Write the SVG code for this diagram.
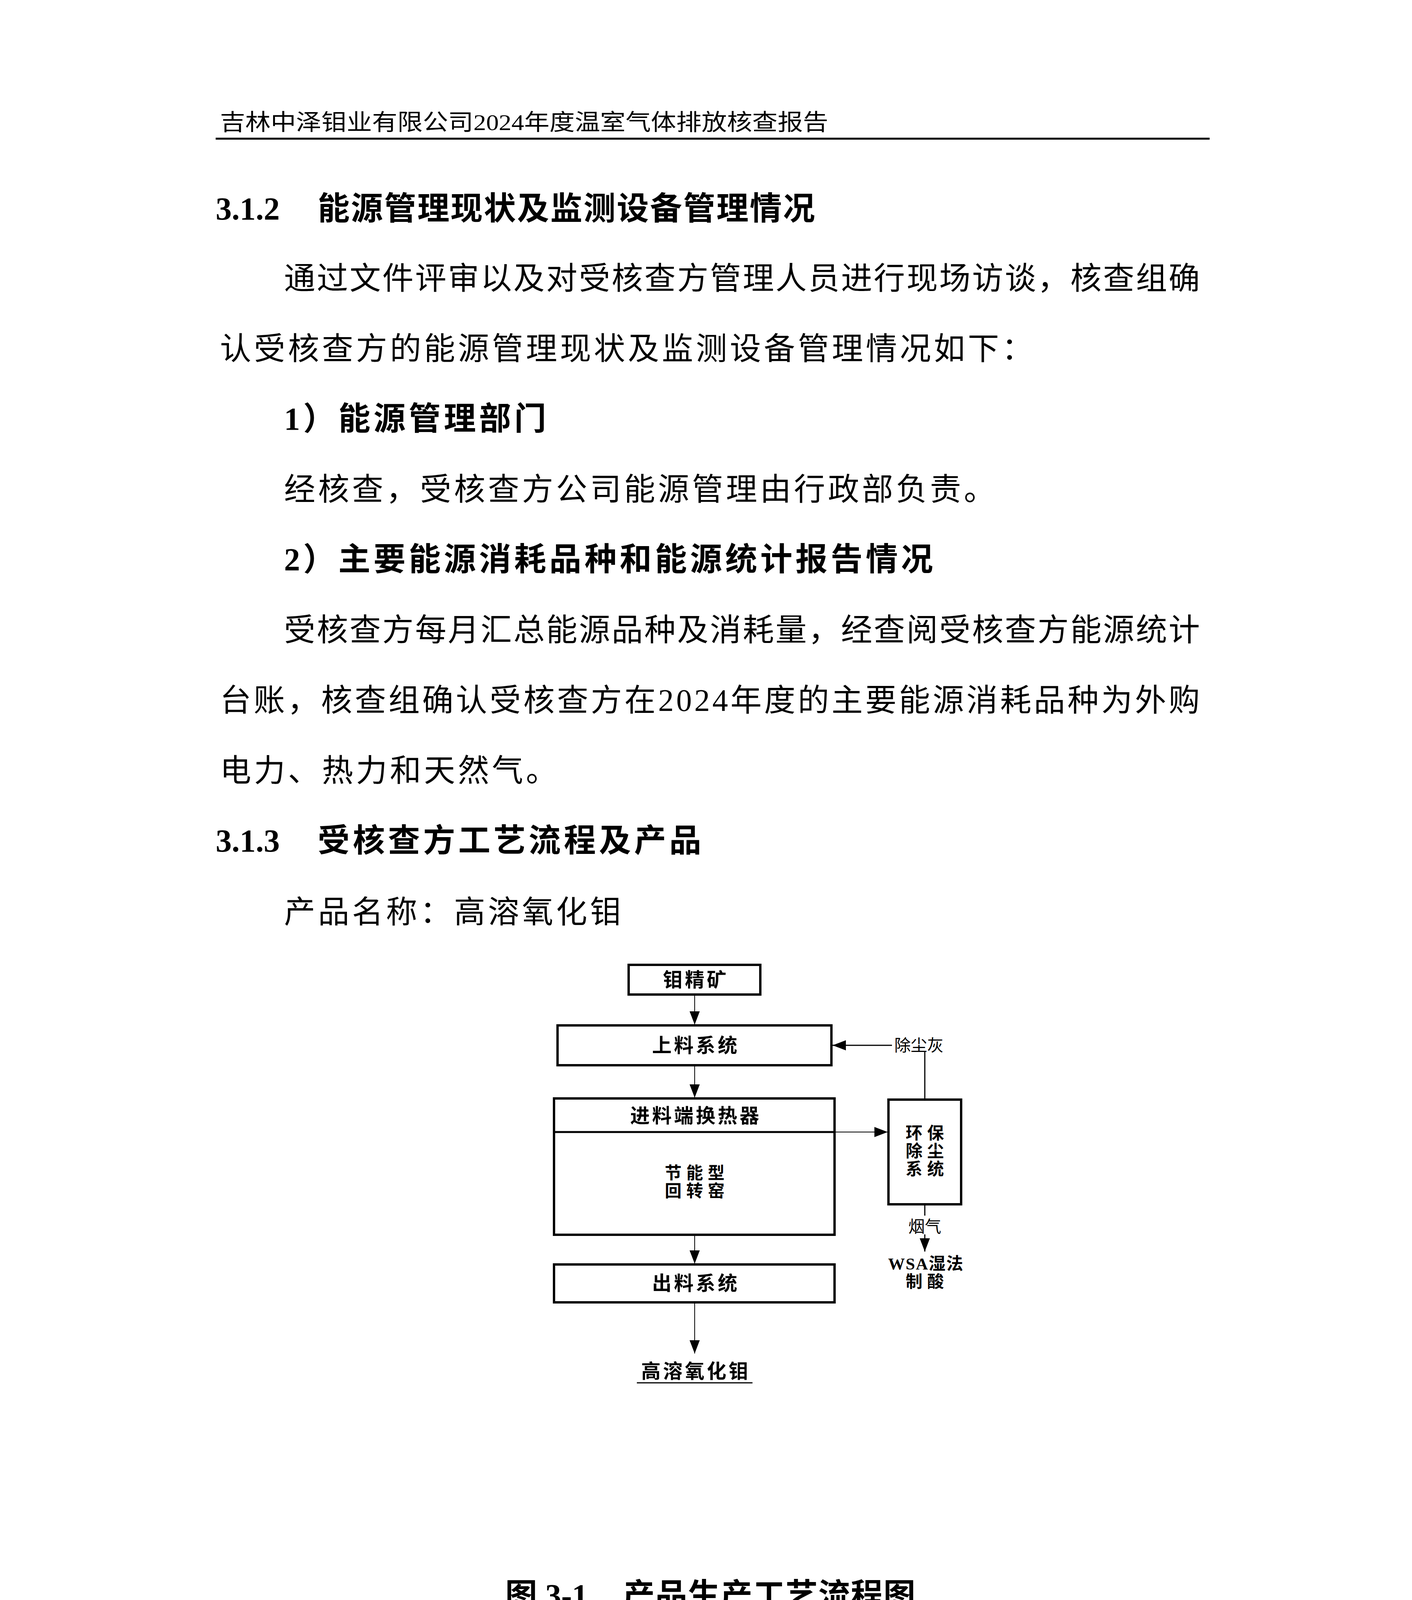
<svg xmlns="http://www.w3.org/2000/svg" width="3614" height="5110" viewBox="0 0 3614 5110">
<style>
text{font-family:"Liberation Serif","Noto Sans CJK SC",serif;fill:#000}
.b{font-size:80px;letter-spacing:7px}
.h{font-size:82px;font-weight:bold;letter-spacing:8px}
.n{letter-spacing:0}
.d{font-size:50px;font-weight:bold;text-anchor:middle;letter-spacing:6px}
.m{font-size:43px;letter-spacing:12px}
.s{font-size:42px;text-anchor:middle}
.box{fill:#fff;stroke:#000;stroke-width:6}
.ln{stroke:#000;stroke-width:2;fill:none}
</style>
<defs>
<marker id="A" viewBox="0 0 10 10" refX="10" refY="5" markerWidth="34" markerHeight="26" orient="auto" markerUnits="userSpaceOnUse" preserveAspectRatio="none"><path d="M0,0L10,5L0,10z"/></marker></defs>
<rect width="3614" height="5110" fill="#fff"/>
<g id="page">
<text x="563" y="333" font-size="58" textLength="1557" lengthAdjust="spacingAndGlyphs">吉林中泽钼业有限公司2024年度温室气体排放核查报告</text>
<line x1="552" y1="355" x2="3096" y2="355" stroke="#000" stroke-width="5"/>
<text class="h n" x="552" y="562">3.1.2</text>
<text class="h" x="813" y="562" textLength="1281" lengthAdjust="spacing">能源管理现状及监测设备管理情况</text>
<text class="b" x="727" y="740" textLength="2351" lengthAdjust="spacing">通过文件评审以及对受核查方管理人员进行现场访谈，核查组确</text>
<text class="b" x="563" y="920">认受核查方的能源管理现状及监测设备管理情况如下：</text>
<text class="h" x="727" y="1100">1）能源管理部门</text>
<text class="b" x="727" y="1280">经核查，受核查方公司能源管理由行政部负责。</text>
<text class="h" x="727" y="1460">2）主要能源消耗品种和能源统计报告情况</text>
<text class="b" x="727" y="1640" textLength="2351" lengthAdjust="spacing">受核查方每月汇总能源品种及消耗量，经查阅受核查方能源统计</text>
<text class="b" x="563" y="1820" textLength="2515" lengthAdjust="spacing">台账，核查组确认受核查方在2024年度的主要能源消耗品种为外购</text>
<text class="b" x="563" y="2000">电力、热力和天然气。</text>
<text class="h n" x="552" y="2180">3.1.3</text>
<text class="h" x="813" y="2180">受核查方工艺流程及产品</text>
<text class="b" x="727" y="2362">产品名称：高溶氧化钼</text>
<text class="h n" x="1293" y="4112">图 3-1</text>
<text class="h" x="1594" y="4112" textLength="757" lengthAdjust="spacing">产品生产工艺流程图</text>
<text class="h n" x="552" y="4292">3.2</text>
<text class="h" x="760" y="4292">核算边界的核查</text>
<text class="b" x="727" y="4472" textLength="2351" lengthAdjust="spacing">通过查阅受核查方公司简介、组织机构图以及现场访谈，核查组</text>
<text class="b" x="563" y="4652" textLength="2515" lengthAdjust="spacing">确认：在吉林省行政辖区范围内，受核查方只有一个生产厂区，位于</text>
<text x="1870" y="4800" font-size="50" text-anchor="middle">10</text>
</g>
<g id="connectors">
<line class="ln" x1="1778" y1="2546" x2="1778" y2="2623" marker-end="url(#A)"/>
<line class="ln" x1="1778" y1="2727" x2="1778" y2="2810" marker-end="url(#A)"/>
<line class="ln" x1="1778" y1="3161" x2="1778" y2="3235" marker-end="url(#A)"/>
<line class="ln" x1="1778" y1="3334" x2="1778" y2="3465" marker-end="url(#A)"/>
<line class="ln" x1="2136" y1="2898" x2="2272" y2="2898" marker-end="url(#A)"/>
<line class="ln" x1="2367" y1="2815" x2="2367" y2="2692" style="stroke-width:3"/>
<line class="ln" x1="2283" y1="2676" x2="2131" y2="2676" style="stroke-width:3" marker-end="url(#A)"/>
<line class="ln" x1="2367" y1="3083" x2="2367" y2="3204" style="stroke-width:3" marker-end="url(#A)"/>
<text class="s" x="2352" y="2691">除尘灰</text>
<rect x="2340" y="3112" width="54" height="48" fill="#fff"/>
<text class="s" x="2367" y="3155">烟气</text>
</g>
<g id="n1"><rect class="box" x="1609" y="2470" width="337" height="76"/><text class="d" x="1781" y="2526">钼精矿</text></g>
<g id="n2"><rect class="box" x="1427" y="2625" width="701" height="102"/><text class="d" x="1781" y="2694">上料系统</text></g>
<g id="n3"><rect class="box" x="1418" y="2812" width="718" height="349"/><line x1="1418" y1="2898" x2="2136" y2="2898" stroke="#000" stroke-width="5"/><text class="d" x="1781" y="2874">进料端换热器</text><text class="d m" x="1784" y="3018">节能型</text><text class="d m" x="1784" y="3064">回转窑</text></g>
<g id="n4"><rect class="box" x="2274" y="2815" width="186" height="268"/><text class="d m" x="2373" y="2916">环保</text><text class="d m" x="2373" y="2962">除尘</text><text class="d m" x="2373" y="3008">系统</text></g>
<g id="n5"><text class="d m" x="2370" y="3250" style="letter-spacing:2px">WSA湿法</text><text class="d m" x="2373" y="3296">制酸</text></g>
<g id="n6"><rect class="box" x="1418" y="3237" width="718" height="97"/><text class="d" x="1781" y="3303">出料系统</text></g>
<g id="n7"><text class="d" x="1781" y="3528">高溶氧化钼</text><line x1="1630" y1="3540" x2="1926" y2="3540" stroke="#000" stroke-width="3"/></g>
</svg>
